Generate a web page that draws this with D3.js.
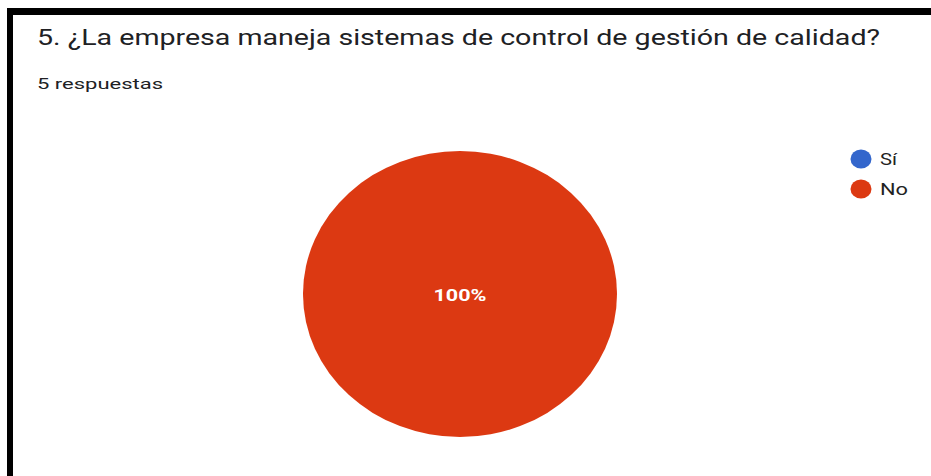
<!DOCTYPE html>
<html><head><meta charset="utf-8">
<script src="https://cdn.jsdelivr.net/npm/d3@7"></script>
<style>html,body{margin:0;padding:0;background:#fff;}svg{display:block;}</style>
</head><body>
<svg id="chart" width="931" height="476"></svg>
<script>
const title = "5. ¿La empresa maneja sistemas de control de gestión de calidad?";
const subtitle = "5 respuestas";
const categories = ["Sí", "No"];
const values = [0, 5];
const colors = ["#3366cc", "#dc3912"];

const svg = d3.select("#chart");
// border (black frame, top and left visible)
svg.append("rect").attr("x", 7).attr("y", 8).attr("width", 931).attr("height", 7).attr("fill", "#000");
svg.append("rect").attr("x", 7).attr("y", 8).attr("width", 6).attr("height", 476).attr("fill", "#000");

svg.append("text").attr("x", 37).attr("y", 45)
  .attr("font-family", "Roboto, 'Open Sans', sans-serif").attr("font-size", 21.5)
  .attr("fill", "#202124").attr("textLength", 843).attr("lengthAdjust", "spacingAndGlyphs")
  .text(title);
svg.append("text").attr("x", 37).attr("y", 89)
  .attr("font-family", "Roboto, 'Open Sans', sans-serif").attr("font-size", 14.5)
  .attr("fill", "#202124").attr("textLength", 126).attr("lengthAdjust", "spacingAndGlyphs")
  .text(subtitle);

const total = d3.sum(values);
const pie = d3.pie().sort(null).value(d => d)(values);
const R = 143;
const sx = 1.098;
const arc = d3.arc().innerRadius(0).outerRadius(R);
const g = svg.append("g").attr("transform", `translate(460,294) scale(${sx},1)`);
g.selectAll("path").data(pie).join("path")
  .attr("d", arc).attr("fill", (d, i) => colors[i]);

pie.forEach((d, i) => {
  if (d.value > 0) {
    const c = d.endAngle - d.startAngle >= 2 * Math.PI - 1e-6 ? [0, 0] : arc.centroid(d);
    svg.append("text").attr("x", 460 + c[0] * sx - 26.5).attr("y", 294 + c[1] + 6.5)
      .attr("font-family", "Roboto, Arial, sans-serif")
      .attr("font-size", 17).attr("font-weight", "bold").attr("fill", "#fff")
      .attr("textLength", 53).attr("lengthAdjust", "spacingAndGlyphs")
      .text(d3.format(".0%")(d.value / total));
  }
});

const legW = [17, 28];
const leg = svg.append("g");
categories.forEach((c, i) => {
  const y = 159 + i * 30;
  leg.append("ellipse").attr("cx", 861).attr("cy", y).attr("rx", 10.5).attr("ry", 9.5).attr("fill", colors[i]);
  leg.append("text").attr("x", 880).attr("y", y + 5.5)
    .attr("font-family", "Roboto, Arial, sans-serif").attr("font-size", 16).attr("fill", "#222")
    .attr("textLength", legW[i]).attr("lengthAdjust", "spacingAndGlyphs")
    .text(c);
});
</script>
</body></html>
